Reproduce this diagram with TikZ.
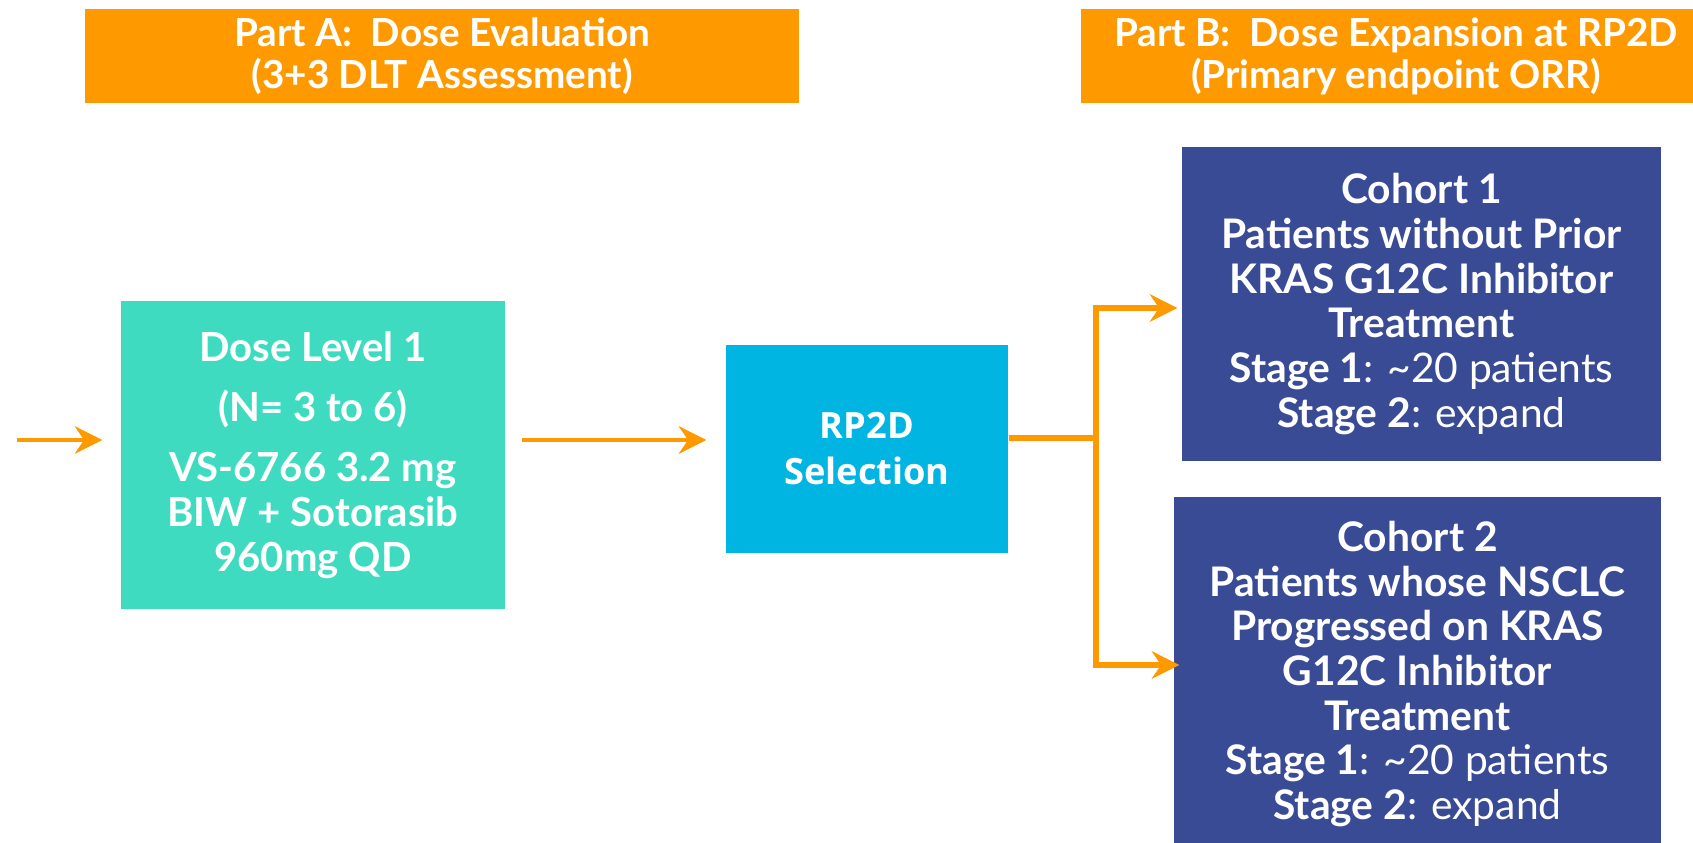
\documentclass[tikz,border=0pt]{standalone}
\usepackage{fontspec}
\setmainfont{Lato}
\newfontfamily\uifont{Open Sans}
\usetikzlibrary{positioning,arrows.meta}
\definecolor{hdrorange}{HTML}{FF9900}
\definecolor{doseteal}{HTML}{3FDBC1}
\definecolor{rpblue}{HTML}{00B5E2}
\definecolor{cohortnavy}{HTML}{3A4B95}

\begin{document}
\begin{tikzpicture}[>=Stealth,
		hdr/.style={fill=hdrorange, text=white, inner sep=0pt, align=center,
			font=\bfseries\fontsize{11}{11.9}\selectfont},
		box/.style={text=white, inner sep=0pt, align=center,
			font=\bfseries\fontsize{11.6}{12.7}\selectfont},
		flow/.style={draw=hdrorange, line width=1.4pt,
			-{Stealth[length=7.8pt,width=7.8pt,inset=2.6pt]}}]
		\useasboundingbox (0,0) rectangle (16.93,-8.43);
		\fill[white] (0,0) rectangle (16.93,-8.43);
		
		\node[hdr, minimum width=7.14cm, minimum height=0.94cm] (partA) at (4.42,-0.56)
		{Part A:\ \ Dose Evaluation\\(3+3 DLT Assessment)};
		\node[hdr, minimum width=6.30cm, minimum height=0.94cm] (partB) at (13.96,-0.56)
		{Part B:\ \ Dose Expansion at RP2D\\(Primary endpoint ORR)};
		
		\node[box, fill=doseteal, font=\bfseries\fontsize{11.4}{12.8}\selectfont,
		minimum width=3.84cm, minimum height=3.08cm] (dose) at (3.13,-4.55)
		{Dose Level 1\\[4.3pt](N= 3 to 6)\\[4.3pt]VS-6766 3.2 mg\\BIW + Sotorasib\\960mg QD};
		\node[box, fill=rpblue, font=\uifont\bfseries\fontsize{10.3}{13.1}\selectfont,
		minimum width=2.82cm, minimum height=2.08cm] (rp2d) at (8.67,-4.49)
		{RP2D\\Selection};
		
		\node[box, fill=cohortnavy, minimum width=4.79cm, minimum height=3.14cm] (c1) at (14.215,-3.04)
		{Cohort 1\\Patients without Prior\\KRAS G12C Inhibitor\\Treatment\\
			Stage 1{\mdseries: \textasciitilde 20 patients}\\Stage 2{\mdseries: expand}};
		\node[box, fill=cohortnavy, minimum width=4.87cm, minimum height=3.54cm] (c2) at (14.175,-6.74)
		{Cohort 2\\Patients whose NSCLC\\Progressed on KRAS\\G12C Inhibitor\\Treatment\\
			Stage 1{\mdseries: \textasciitilde 20 patients}\\Stage 2{\mdseries: expand}};
		
		\coordinate (entry) at (0.17,-4.40);
		\coordinate (split) at (10.96,-4.38);
		\draw[flow, shorten >=0.18cm] (entry) -- (dose.west |- entry);
		\draw[flow, shorten <=0.16cm, shorten >=0.19cm] (dose.east |- entry) -- (rp2d.west |- entry);
		\draw[flow, line width=1.6pt, shorten >=0.04cm] (rp2d.east |- split) -- (split) |- ([yshift=-0.04cm]c1.west);
		\draw[flow, line width=1.6pt, shorten >=-0.06cm] (rp2d.east |- split) -- (split) |- ([yshift=0.09cm]c2.west);
	\end{tikzpicture}
\end{document}
